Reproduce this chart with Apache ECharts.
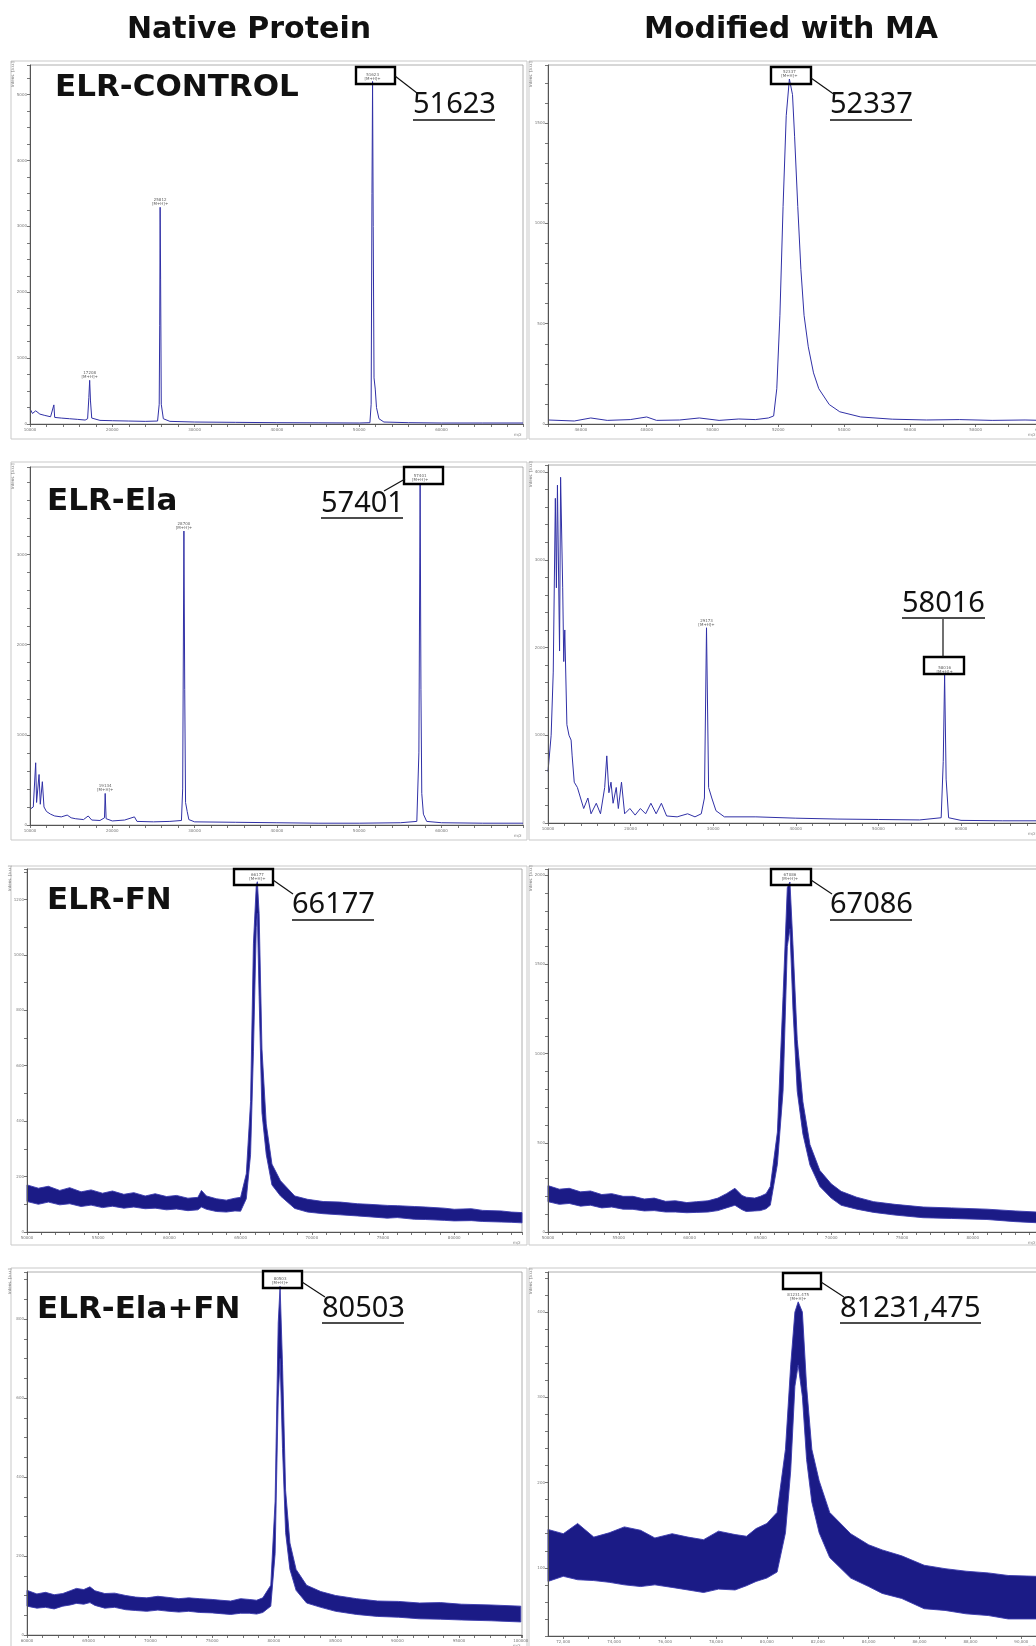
<!DOCTYPE html>
<html><head><meta charset="utf-8">
<script src="https://cdn.jsdelivr.net/npm/echarts@6/dist/echarts.min.js"></script>
<style>html,body{margin:0;padding:0;background:#fff}#c{width:1036px;height:1646px}</style>
</head><body><div id="c"></div>
<script>
// ---------------- DATA ----------------
// Panel 1: ELR-CONTROL, native (m/z, intensity)
const p1X = [10000,10300,10700,11200,11800,12500,12900,13000,13800,14800,15800,16700,17000,17150,17250,17350,17500,18500,20000,22000,24000,25500,25700,25760,25812,25870,25950,26200,27000,30000,35000,40000,45000,50000,51300,51450,51550,51623,51700,51800,51950,52100,52400,53000,56000,60000,65000,69900];
const p1Y = [230,160,200,150,130,110,290,100,90,80,70,60,80,400,663,350,90,55,50,45,40,45,300,1500,3290,2200,300,80,40,30,25,20,18,15,20,300,3500,5200,3000,700,530,250,80,30,20,15,15,15];
// Panel 2: ELR-CONTROL, modified with MA
const p2X = [45000,45800,46300,46800,47500,48000,48300,49000,49600,50200,50800,51300,51700,51858,51954,52049,52145,52241,52337,52432,52496,52592,52687,52783,52911,53070,53230,53549,53868,54506,55463,56500,57500,58500,59500,60000];
const p2Y = [20,15,30,18,22,35,18,20,30,18,25,22,30,40,176,542,1084,1537,1720,1642,1432,1084,770,542,385,255,176,97,61,35,24,20,22,18,20,18];
// Panel 3: ELR-Ela, native
const p3X = [10000,10400,10690,10800,11100,11250,11500,11700,12000,12500,13000,13800,14520,15000,15500,16500,17070,17500,18500,19050,19134,19250,20000,21500,22690,23000,25000,27000,28400,28550,28700,28800,28900,29100,29300,30000,35000,40000,45000,50000,55000,57000,57250,57401,57500,57600,57800,58200,60000,65000,69900];
const p3Y = [175,200,690,250,560,230,480,200,150,120,100,90,110,80,70,60,100,55,50,80,350,70,45,55,90,40,35,40,50,400,3260,1500,250,150,60,35,30,25,20,20,25,40,800,3790,1500,350,120,40,25,20,20];
// Panel 4: ELR-Ela, modified with MA
const p4X = [10000,10381,10635,10890,11017,11144,11398,11525,11779,11906,12033,12287,12541,12796,12923,13177,13558,13940,14321,14829,15210,15847,16355,16863,17117,17372,17626,17880,18261,18516,18897,19278,19914,20549,21184,21820,22456,23091,23727,24362,25633,26904,27794,28557,28938,29190,29446,29827,30336,31353,35166,40000,45000,50000,55000,57600,57850,58016,58200,58500,60000,65000,70000];
const p4Y = [585,1000,1720,3700,2680,3850,1960,3940,2680,1840,2200,1120,1000,945,765,465,405,285,165,285,105,225,105,405,765,345,465,225,405,165,465,105,165,90,165,105,225,105,225,80,70,105,70,105,285,2225,405,285,140,70,70,55,45,40,35,60,700,1690,500,60,30,25,25];
// Panel 5: ELR-FN, native (noise band: lower / upper envelope)
const p5X  = [50000,50800,51500,52300,53000,53800,54500,55300,56000,56800,57500,58300,59000,59800,60500,61300,62000,62250,62600,63300,64000,64600,65000,65400,65700,65900,66100,66177,66300,66500,66800,67200,67800,68800,69700,70800,72000,73200,74000,75300,76000,77200,78000,79300,80000,81200,82000,83300,84000,84760];
const p5Lo = [110,100,108,98,102,92,97,88,93,86,90,84,86,80,83,77,80,90,82,74,72,76,75,120,280,650,1100,1150,850,430,280,170,130,85,72,66,62,58,55,50,52,46,45,42,40,41,38,36,35,33];
const p5Hi = [170,158,165,150,160,145,152,140,148,136,142,130,138,128,132,122,125,150,130,120,115,122,125,210,470,1040,1250,1264,1150,660,390,245,185,130,118,110,108,102,100,96,95,92,90,86,82,84,78,76,72,70];
// Panel 6: ELR-FN, modified with MA
const p6X  = [50000,50800,51500,52300,53000,53800,54500,55300,56000,56800,57500,58300,59000,59800,60500,61300,62000,62600,63200,63700,64000,64600,65000,65400,65700,66200,66600,66900,67086,67300,67600,68000,68500,69200,70000,70700,71800,73000,74500,76500,78500,81000,83000,85000];
const p6Lo = [170,155,160,145,150,135,140,128,127,118,120,112,112,108,110,112,120,135,150,125,115,118,120,130,150,380,790,1600,1700,1250,790,550,375,255,190,150,128,110,95,80,76,70,58,50];
const p6Hi = [260,240,245,225,230,210,215,200,200,185,190,172,175,165,170,175,190,215,245,205,195,190,200,215,255,560,1320,1930,1962,1610,1080,730,490,345,270,228,195,170,155,140,135,128,118,110];
// Panel 7: ELR-Ela+FN, native
const p7X  = [60000,60800,61500,62200,62900,63500,64000,64600,65100,65500,66300,67100,68000,68800,69700,70600,71500,72300,73100,74000,75000,75700,76500,77300,78000,78600,79100,79750,80100,80350,80503,80700,80950,81300,81800,82650,83800,85000,86700,88400,90100,91800,93500,95200,97600,100000];
const p7Lo = [73,68,70,66,73,76,80,78,82,75,68,70,64,62,60,63,60,58,60,57,56,54,52,55,55,53,57,73,206,600,700,472,259,166,113,81,70,60,52,47,45,41,40,38,36,33];
const p7Hi = [113,104,108,102,105,112,118,115,122,112,105,106,100,96,94,98,95,92,94,92,90,88,86,92,90,88,94,126,339,790,883,684,365,233,166,126,110,100,92,86,85,81,82,78,76,73];
// Panel 8: ELR-Ela+FN, modified with MA
const p8X  = [71400,72000,72565,73200,73802,74400,75039,75600,76277,76900,77514,78100,78751,79200,79576,80000,80401,80731,80937,81102,81231,81396,81561,81767,82056,82469,83293,84000,84531,85300,86181,87000,87830,88700,89480,90594,91000];
const p8Lo = [84,90,86,85,83,80,78,80,77,74,71,75,74,79,84,88,95,141,214,313,338,301,227,177,141,112,88,78,70,64,52,50,46,44,40,40,42];
const p8Hi = [145,140,152,136,141,148,144,135,140,136,133,143,139,137,146,152,165,239,338,400,412,400,313,239,202,165,140,127,121,114,103,99,96,94,91,90,92];

// Peak labels [m/z, intensity, text]
const peaks1 = [[17250,663,'17208'],[25812,3290,'25812'],[51623,5200,'51623']];
const peaks2 = [[52337,1720,'52337']];
const peaks3 = [[19134,350,'19134'],[28700,3260,'28700'],[57401,3790,'57401']];
const peaks4 = [[29190,2225,'29173'],[58016,1690,'58016']];
const peaks5 = [[66177,1264,'66177']];
const peaks6 = [[67086,1962,'67086']];
const peaks7 = [[80503,883,'80503']];
const peaks8 = [[81231,412,'81231.475']];

const colTitles = ['Native Protein','Modified with MA'];
const rowTitles = ['ELR-CONTROL','ELR-Ela','ELR-FN','ELR-Ela+FN'];
const bigLabels = ['51623','52337','57401','58016','66177','67086','80503','81231,475'];

// Axis tick values for panel 8 x axis
const p8Ticks = [72000,73000,74000,75000,76000,77000,78000,79000,80000,81000,82000,83000,84000,85000,86000,87000,88000,89000,90000,91000];
const p8TickLabels = [72000,74000,76000,78000,80000,82000,84000,86000,88000,90000];

// ---------------- LAYOUT ----------------
const panels = [
 {g:{left:30,top:65,width:493,height:359}, x:[10000,69900,2000,10000], y:[0,5450,250,1000], type:'line', xs:p1X, ys:p1Y, pk:peaks1},
 {g:{left:548,top:65,width:493.5,height:359}, x:[45000,60000,1000,2000], y:[0,1790,100,500], type:'line', xs:p2X, ys:p2Y, pk:peaks2},
 {g:{left:30,top:467,width:493,height:358}, x:[10000,69900,2000,10000], y:[0,3970,200,1000], type:'line', xs:p3X, ys:p3Y, pk:peaks3},
 {g:{left:548,top:465,width:495.6,height:358}, x:[10000,70000,2000,10000], y:[0,4080,200,1000], type:'line', xs:p4X, ys:p4Y, pk:peaks4},
 {g:{left:27,top:869,width:495,height:363}, x:[50000,84760,1000,5000], y:[0,1310,100,200], type:'band', xs:p5X, lo:p5Lo, hi:p5Hi, pk:peaks5},
 {g:{left:548,top:869,width:495.6,height:363}, x:[50000,85000,1000,5000], y:[0,2035,100,500], type:'band', xs:p6X, lo:p6Lo, hi:p6Hi, pk:peaks6},
 {g:{left:27,top:1272,width:495,height:363}, x:[60000,100100,1250,5000], y:[0,919,50,200], type:'band', xs:p7X, lo:p7Lo, hi:p7Hi, pk:peaks7},
 {g:{left:548,top:1272,width:498.8,height:364}, x:[71400,91000,null,null], y:[20,447,20,100], type:'band', xs:p8X, lo:p8Lo, hi:p8Hi, pk:peaks8, customX:true},
];

const LINE = '#3030a6';
const grid=[], xAxis=[], yAxis=[], series=[];
panels.forEach((p,i)=>{
  grid.push(Object.assign({show:true, borderColor:'#9a9a9a', borderWidth:0.8, backgroundColor:'#fff', containLabel:false, outerBoundsMode:'none'}, p.g));
  const xa = {type:'value', gridIndex:i, min:p.x[0], max:p.x[1], z:5,
    axisLine:{show:true, onZero:false, lineStyle:{color:'#555', width:1}},
    axisTick:{show:true, length:3, lineStyle:{color:'#555', width:0.8}},
    axisLabel:{fontSize:4, color:'#777', margin:4, fontFamily:'DejaVu Sans', hideOverlap:false},
    splitLine:{show:false}};
  if (p.customX) {
    xa.axisTick.customValues = p8Ticks;
    xa.axisLabel.customValues = p8TickLabels;
  } else {
    xa.interval = p.x[2];
    const st = p.x[3];
    xa.axisLabel.formatter = v => (v % st === 0 ? String(v) : '');
  }
  xAxis.push(xa);
  const yst = p.y[3];
  yAxis.push({type:'value', gridIndex:i, min:p.y[0], max:p.y[1], interval:p.y[2], z:5,
    axisLine:{show:true, onZero:false, lineStyle:{color:'#555', width:1}},
    axisTick:{show:true, length:3, lineStyle:{color:'#555', width:0.8}},
    axisLabel:{fontSize:4, color:'#777', margin:3, fontFamily:'DejaVu Sans', formatter: v => (v % yst === 0 ? String(v) : '')},
    splitLine:{show:false}});
  if (p.type === 'line') {
    series.push({type:'line', xAxisIndex:i, yAxisIndex:i, showSymbol:false, silent:true, animation:false,
      lineStyle:{color:LINE, width:1}, data:p.xs.map((x,k)=>[x,p.ys[k]])});
  } else {
    const xs=p.xs, lo=p.lo, hi=p.hi;
    series.push({type:'custom', xAxisIndex:i, yAxisIndex:i, silent:true, animation:false,
      data:[[xs[0], lo[0]]],
      renderItem:function(params, api){
        const top = xs.map((x,k)=>api.coord([x,hi[k]]));
        const bot = xs.map((x,k)=>api.coord([x,lo[k]])).reverse();
        return {type:'polygon', shape:{points:top.concat(bot)},
          style:{fill:'#1b1b86', stroke:'#3a3aae', lineWidth:0.9}};
      }});
  }
  series.push({type:'scatter', xAxisIndex:i, yAxisIndex:i, symbolSize:0, silent:true, animation:false, z:6,
    data:p.pk.map(d=>({value:[d[0],d[1]], name:d[2]})),
    label:{show:true, position:'top', distance:1, fontSize:4, color:'#333', fontFamily:'DejaVu Sans', formatter:q=>q.name+'\n[M+H]+'}});
});

// ---------------- GRAPHICS (annotations) ----------------
const G = [];
const frames = [[11,61,516,378],[529,61,520,378],[11,462,516,378],[529,462,520,378],[11,866,516,379],[529,866,520,379],[11,1268,516,390],[529,1268,520,390]];
frames.forEach(f=>G.push({type:'rect', z:-10, shape:{x:f[0],y:f[1],width:f[2],height:f[3]}, style:{fill:'none', stroke:'#c9c9c9', lineWidth:1}}));
// axis names
panels.forEach(p=>{
  G.push({type:'text', z:50, x:p.g.left-19, y:p.g.top+22, rotation:Math.PI/2, style:{text:'Intens. [a.u.]', fontSize:4, fill:'#777', fontFamily:'DejaVu Sans'}});
  G.push({type:'text', z:50, x:Math.min(p.g.left+p.g.width-9, 1028), y:p.g.top+p.g.height+9, style:{text:'m/z', fontSize:4, fill:'#777', fontFamily:'DejaVu Sans'}});
});
// column titles
[[249,30],[791,30]].forEach((c,k)=>G.push({type:'text', z:50, x:c[0], y:c[1], style:{text:colTitles[k], fontSize:30, fontWeight:'bold', fontFamily:'DejaVu Sans', fill:'#111', align:'center', verticalAlign:'middle'}}));
// row titles
[[55,88],[47,502],[47,901],[37,1310]].forEach((c,k)=>G.push({type:'text', z:50, x:c[0], y:c[1], style:{text:rowTitles[k], fontSize:31, fontWeight:'bold', fontFamily:'DejaVu Sans', fill:'#111', verticalAlign:'middle'}}));
// big underlined numbers
const bigPos = [[413,105,120,495],[830,105,120,912],[321,504,518,403],[902,604,618,985],[292,905,920,374],[830,905,920,912],[322,1309,1323,404],[840,1309,1323,981]];
bigPos.forEach((b,k)=>{
  G.push({type:'text', z:50, x:b[0], y:b[1], style:{text:bigLabels[k], fontSize:29, fontFamily:'Noto Sans', fill:'#111', verticalAlign:'middle'}});
  G.push({type:'line', z:50, shape:{x1:b[0],y1:b[2],x2:b[3],y2:b[2]}, style:{stroke:'#111', lineWidth:1.6}});
});
// callout boxes
const boxes = [[356,67,39,17],[771,67,40,17],[404,467,39,17],[924,657,40,17],[234,869,39,16],[771,869,40,16],[263,1271,39,17],[783,1273,38,16]];
boxes.forEach(b=>G.push({type:'rect', z:50, shape:{x:b[0],y:b[1],width:b[2],height:b[3]}, style:{fill:'none', stroke:'#000', lineWidth:2.4}}));
const leaders = [[395,76,417,93],[811,78,835,95],[405,479,384,491],[943,619,943,657],[273,880,293,894],[811,880,832,894],[302,1282,325,1297],[821,1282,844,1297]];
leaders.forEach(l=>G.push({type:'line', z:50, shape:{x1:l[0],y1:l[1],x2:l[2],y2:l[3]}, style:{stroke:'#111', lineWidth:1.2}}));

const chart = echarts.init(document.getElementById('c'), null, {renderer:'canvas'});
chart.setOption({animation:false, backgroundColor:'#fff', grid, xAxis, yAxis, series, graphic:G});
</script></body></html>
